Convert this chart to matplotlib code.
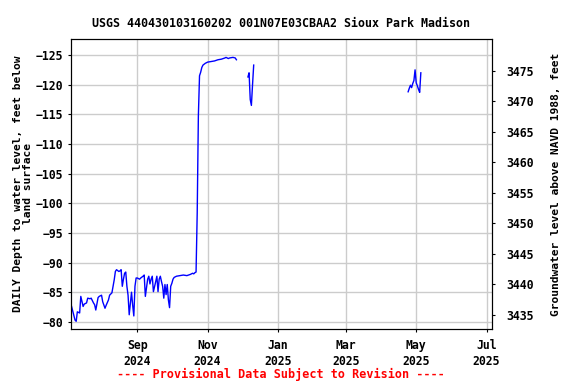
"""
Daily depth to groundwater, USGS 440430103160202 Sioux Park Madison.
Left axis: depth below land surface, right axis: elevation above NAVD 1988.
"""
import matplotlib
matplotlib.use("Agg")
import matplotlib.pyplot as plt
import pandas as pd

# first record: Jul - Nov 2024 (big rise near Oct 23)
dates_1 = ['2024-07-06', '2024-07-09', '2024-07-10', '2024-07-11', '2024-07-13',
           '2024-07-14', '2024-07-16', '2024-07-17', '2024-07-19', '2024-07-20',
           '2024-07-22', '2024-07-23', '2024-07-25', '2024-07-26', '2024-07-27',
           '2024-07-29', '2024-07-30', '2024-08-01', '2024-08-02', '2024-08-04',
           '2024-08-05', '2024-08-07', '2024-08-08', '2024-08-10', '2024-08-11',
           '2024-08-12', '2024-08-13', '2024-08-14', '2024-08-16', '2024-08-17',
           '2024-08-18', '2024-08-19', '2024-08-20', '2024-08-21', '2024-08-22',
           '2024-08-23', '2024-08-24', '2024-08-25', '2024-08-27', '2024-08-28',
           '2024-08-29', '2024-08-30', '2024-08-31', '2024-09-01', '2024-09-03',
           '2024-09-04', '2024-09-06', '2024-09-07', '2024-09-08', '2024-09-10',
           '2024-09-11', '2024-09-12', '2024-09-13', '2024-09-14', '2024-09-15',
           '2024-09-17', '2024-09-18', '2024-09-19', '2024-09-20', '2024-09-21',
           '2024-09-22', '2024-09-23', '2024-09-24', '2024-09-25', '2024-09-26',
           '2024-09-27', '2024-09-28', '2024-09-29', '2024-09-30', '2024-10-01',
           '2024-10-02', '2024-10-03', '2024-10-05', '2024-10-08', '2024-10-11',
           '2024-10-14', '2024-10-17', '2024-10-19', '2024-10-20', '2024-10-21',
           '2024-10-22', '2024-10-23', '2024-10-24', '2024-10-25', '2024-10-26',
           '2024-10-27', '2024-10-28', '2024-10-30', '2024-11-01', '2024-11-04',
           '2024-11-07', '2024-11-10', '2024-11-13', '2024-11-16', '2024-11-17',
           '2024-11-19', '2024-11-20', '2024-11-23', '2024-11-25', '2024-11-26']
depth_1 = [-82.6, -80.3, -80.1, -81.7, -81.5,
           -84.3, -82.6, -83.0, -83.2, -84.0,
           -83.9, -84.0, -83.2, -82.9, -82.0,
           -84.1, -84.3, -84.5, -83.4, -82.3,
           -82.8, -83.7, -84.5, -84.9, -86.0,
           -87.1, -88.5, -88.8, -88.5, -88.6,
           -88.8, -86.0, -87.2, -88.2, -88.4,
           -86.0, -84.5, -81.2, -85.0, -82.8,
           -81.0, -86.0, -87.4, -87.4, -87.2,
           -87.4, -87.7, -87.9, -84.3, -87.2,
           -87.7, -86.4, -87.2, -87.7, -85.1,
           -86.8, -87.7, -85.1, -87.2, -87.7,
           -86.8, -86.0, -84.0, -86.3, -84.6,
           -86.3, -83.7, -82.4, -86.0, -86.5,
           -87.2, -87.5, -87.7, -87.8, -87.9,
           -87.8, -88.0, -88.2, -88.1, -88.3,
           -88.4, -98.4, -114.7, -121.5, -122.1,
           -122.9, -123.3, -123.6, -123.8, -123.9,
           -124.0, -124.2, -124.3, -124.5, -124.6,
           -124.4, -124.5, -124.6, -124.5, -124.2]

# short record in December 2024
dates_2 = ['2024-12-06', '2024-12-07', '2024-12-08', '2024-12-09', '2024-12-10',
           '2024-12-11']
depth_2 = [-121.3, -122.0, -117.5, -116.5, -120.0, -123.3]

# short record late April / early May 2025
dates_3 = ['2025-04-24', '2025-04-25', '2025-04-26', '2025-04-27', '2025-04-28',
           '2025-04-29', '2025-04-30', '2025-05-01', '2025-05-02', '2025-05-03',
           '2025-05-04', '2025-05-05']
depth_3 = [-118.8, -119.4, -119.9, -119.5, -120.2,
           -120.7, -122.5, -120.3, -119.8, -119.2,
           -118.7, -122.0]

tick_dates = ['2024-09-01', '2024-11-01', '2025-01-01', '2025-03-01',
              '2025-05-01', '2025-07-01']
tick_labels = ['Sep\n2024', 'Nov\n2024', 'Jan\n2025', 'Mar\n2025',
               'May\n2025', 'Jul\n2025']
depth_ticks = [-125, -120, -115, -110, -105, -100, -95, -90, -85, -80]
elev_ticks = [3435, 3440, 3445, 3450, 3455, 3460, 3465, 3470, 3475]

FONT = 'DejaVu Sans Mono'

if __name__ == "__main__":
    plt.rcParams['font.family'] = FONT
    plt.rcParams['font.weight'] = 'bold'
    plt.rcParams['font.size'] = 8.3

    fig = plt.figure(figsize=(5.76, 3.84), dpi=100)
    ax = fig.add_axes([71 / 576, 55 / 384, 421 / 576, 290 / 384])

    for d, v in [(dates_1, depth_1), (dates_2, depth_2), (dates_3, depth_3)]:
        ax.plot(pd.to_datetime(d), v, color='#0000ff', lw=1)

    ax.set_xlim(pd.Timestamp('2024-07-05 12:00'), pd.Timestamp('2025-07-05 18:00'))
    ax.set_ylim(-78.8, -127.7)
    ax.set_yticks(depth_ticks)
    ax.set_xticks(pd.to_datetime(tick_dates))
    ax.set_xticklabels(tick_labels, fontweight='bold', linespacing=1.3)
    ax.grid(True, color='#cccccc', lw=1)
    ax.set_axisbelow(True)
    ax.tick_params(direction='out', length=2.5, pad=3)
    ax.tick_params(axis='x', pad=5)
    ax.set_ylabel('DAILY Depth to water level, feet below\nland surface',
                  fontweight='bold', fontsize=8.1, linespacing=1.0, labelpad=2)

    # right axis, elevation
    ax2 = ax.twinx()
    ax2.set_ylim(3432.7, 3480.2)
    ax2.set_yticks(elev_ticks)
    ax2.tick_params(direction='out', length=2.5, pad=8)
    ax2.set_ylabel('Groundwater level above NAVD 1988, feet',
                   fontweight='bold', fontsize=8.1, labelpad=12)

    fig.text(0.488, 0.94, 'USGS 440430103160202 001N07E03CBAA2 Sioux Park Madison',
             ha='center', va='center', fontweight='bold', fontsize=8.4)
    fig.text(0.487, 0.025, '---- Provisional Data Subject to Revision ----',
             ha='center', va='center', fontweight='bold', fontsize=8.5,
             color='red')

    fig.savefig('out.png', dpi=100)
